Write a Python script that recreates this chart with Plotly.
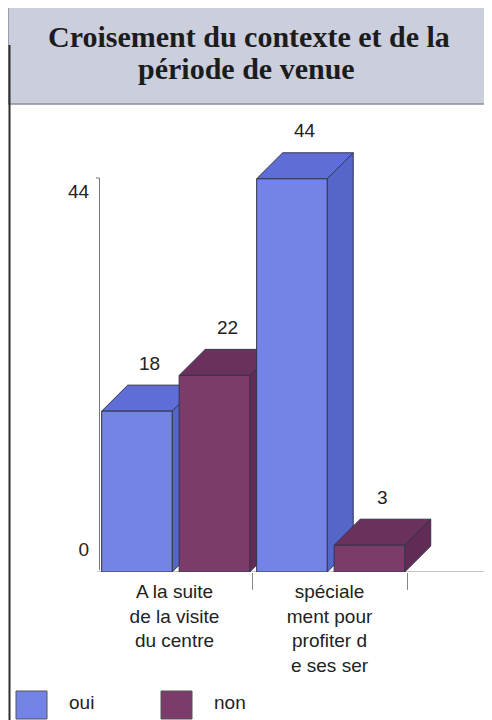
import plotly.graph_objects as go

# data
categories = ["A la suite<br>de la visite<br>du centre",
              "spéciale<br>ment pour<br>profiter d<br>e ses ser"]
series_names = ["oui", "non"]
oui = [18, 44]
non = [22, 3]
y_ticks = [0, 44]
title_lines = ["Croisement du contexte et de la", "période de venue"]

W, H = 492, 720
PAGE_MARGIN = 8   # the page body adds 8px around the figure


def px(x):
    return (x - PAGE_MARGIN) / W


def py(y):
    return 1 - (y - PAGE_MARGIN) / H


front = {"oui": "#7483e6", "non": "#7b3b6b"}
top = {"oui": "#5e6ed6", "non": "#6a315e"}
side = {"oui": "#5566c9", "non": "#622b56"}
edge = "#34344a"

offsets = {"oui": -0.47, "non": 0.03}
bar_w = 0.455
dx, dy = 0.168, 2.91          # depth of the fake 3D effect, in axis units
x_range = [-0.5, 2.1]
y_range = [0, 51.7]

fig = go.Figure()

bars = []
for name, vals in zip(series_names, (oui, non)):
    for i, v in enumerate(vals):
        left = i + offsets[name]
        bars.append((left, left + bar_w, v, name))
bars.sort()

# top + side faces, left to right so the right-hand bars hide what is behind
for l, r, h, name in bars:
    fig.add_trace(go.Scatter(x=[l, r, r + dx, l + dx, l],
                             y=[h, h, h + dy, h + dy, h],
                             fill='toself', fillcolor=top[name], mode='lines',
                             line=dict(color=edge, width=1),
                             hoverinfo='skip', showlegend=False))
    fig.add_trace(go.Scatter(x=[r, r, r + dx, r + dx, r],
                             y=[0, h, h + dy, dy, 0],
                             fill='toself', fillcolor=side[name], mode='lines',
                             line=dict(color=edge, width=1),
                             hoverinfo='skip', showlegend=False))

# front faces on an overlaid x axis so they sit above the other faces
for name, vals in zip(series_names, (oui, non)):
    fig.add_trace(go.Bar(x=list(range(len(categories))), y=vals, name=name,
                         xaxis='x2', yaxis='y',
                         offset=offsets[name], width=bar_w,
                         marker=dict(color=front[name], line=dict(color=edge, width=1)),
                         hoverinfo='skip', showlegend=False))

# carrier for the value axis
fig.add_trace(go.Scatter(x=[None], y=[None], xaxis='x', yaxis='y2',
                         hoverinfo='skip', showlegend=False))

annotations = []
for l, r, h, name in bars:
    annotations.append(dict(x=(l + r) / 2 + dx / 2, y=h + dy, xref='x', yref='y',
                            text=str(h), showarrow=False, yanchor='middle', yshift=22,
                            font=dict(size=19, color='#222')))

annotations.append(dict(x=px(249), y=py(37), xref='paper', yref='paper',
                        text="<b>" + title_lines[0] + "</b>", showarrow=False,
                        xanchor='center', yanchor='middle',
                        font=dict(family='Liberation Serif, Times New Roman, serif',
                                  size=30, color='#1c1c1c')))
annotations.append(dict(x=px(246), y=py(68), xref='paper', yref='paper',
                        text="<b>" + title_lines[1] + "</b>", showarrow=False,
                        xanchor='center', yanchor='middle',
                        font=dict(family='Liberation Serif, Times New Roman, serif',
                                  size=30, color='#1c1c1c')))

shapes = [
    # title box
    dict(type='rect', xref='paper', yref='paper', x0=px(8), x1=px(505), y0=py(104), y1=py(7),
         fillcolor='#cbcedd', line=dict(color='#8d8f9c', width=1.5), layer='below'),
    # left frame line
    dict(type='line', xref='paper', yref='paper', x0=px(9.5), x1=px(9.5), y0=py(45), y1=py(730),
         line=dict(color='#2e2e2e', width=2)),
    # floor line
    dict(type='line', xref='x', yref='y', x0=x_range[0], x1=x_range[1], y0=0, y1=0,
         line=dict(color='#8a8a8a', width=1), layer='below'),
    # little tick on top of value axis
    dict(type='line', xref='paper', yref='paper', x0=px(96), x1=px(99.5), y0=py(178), y1=py(178),
         line=dict(color='#777', width=1)),
]

# legend drawn by hand for the big swatches
legend_x = {"oui": (16, 47, 67), "non": (161, 192, 212)}
for name in series_names:
    x0, x1, tx = legend_x[name]
    shapes.append(dict(type='rect', xref='paper', yref='paper', x0=px(x0), x1=px(x1),
                       y0=py(719), y1=py(691), fillcolor=front[name],
                       line=dict(color='#555', width=1)))
    annotations.append(dict(x=px(tx), y=py(702), xref='paper', yref='paper', text=name,
                            showarrow=False, xanchor='left', yanchor='middle',
                            font=dict(size=19, color='#222')))

fig.update_layout(
    width=W, height=H,
    margin=dict(l=0, r=0, t=0, b=0),
    paper_bgcolor='white', plot_bgcolor='rgba(0,0,0,0)',
    showlegend=False,
    barmode='overlay',
    font=dict(family='Liberation Sans, Arial, sans-serif', size=19, color='#222'),
    xaxis=dict(domain=[px(97), 1], range=x_range, tickvals=[0.5, 1.5],
               ticks='outside', ticklen=17, tickcolor='#888', tickwidth=1,
               showticklabels=False, showgrid=False, zeroline=False, showline=False),
    xaxis2=dict(overlaying='x', anchor='y', side='bottom', range=x_range,
                tickvals=list(range(len(categories))), ticktext=categories,
                ticks='', showgrid=False, zeroline=False, showline=False,
                ticklabelstandoff=6, tickfont=dict(size=19, color='#222')),
    yaxis=dict(domain=[py(572), py(110)], range=y_range, visible=False),
    yaxis2=dict(domain=[py(570), py(178)], anchor='free', position=px(99),
                range=[-2.58, 45.6], tickvals=y_ticks, ticks='',
                showline=True, linecolor='#777', linewidth=1,
                showgrid=False, zeroline=False, ticklabelstandoff=6,
                tickfont=dict(size=19, color='#222')),
    annotations=annotations,
    shapes=shapes,
)

fig.write_html("out.html")
